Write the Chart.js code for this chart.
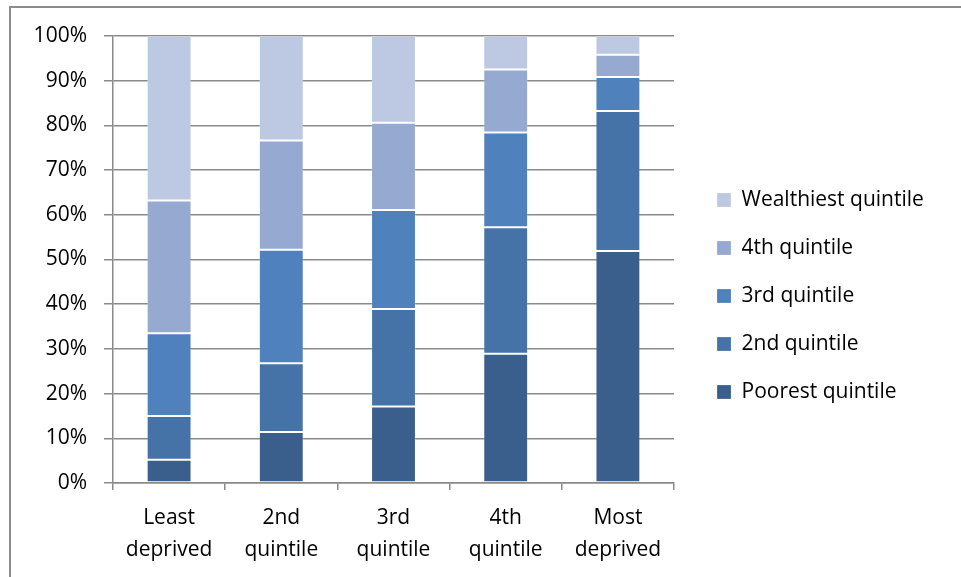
<!DOCTYPE html>
<html>
<head>
<meta charset="utf-8">
<script src="https://cdn.jsdelivr.net/npm/chart.js@4.4.0/dist/chart.umd.min.js"></script>
<style>
    html, body { margin: 0; padding: 0; background: #ffffff; }
    body { width: 961px; height: 577px; position: relative; overflow: hidden; }
    .frame {
        position: absolute; left: 9px; top: 6px; width: 1000px; height: 620px;
        border-left: 2px solid #8c8c8c; border-top: 2px solid #8c8c8c;
    }
    .chart-box { position: absolute; left: 0; top: 0; width: 961px; height: 577px; }
</style>
</head>
<body>
<div class="frame"></div>
<div class="chart-box"><canvas id="wealthChart"></canvas></div>
<script>
// Categories (area deprivation) and tick labels
const categories = [
    ['Least', 'deprived'],
    ['2nd', 'quintile'],
    ['3rd', 'quintile'],
    ['4th', 'quintile'],
    ['Most', 'deprived']
];
const yTicks = [0, 10, 20, 30, 40, 50, 60, 70, 80, 90, 100];

// Share of each wealth quintile, percent
const poorest = [5.2, 11.4, 17.1, 28.9, 51.9];
const second = [9.8, 15.4, 21.8, 28.3, 31.3];
const third = [18.5, 25.4, 22.2, 21.2, 7.6];
const fourth = [29.7, 24.4, 19.5, 14.1, 5.0];
const wealthiest = [36.8, 23.4, 19.4, 7.5, 4.2];

const seriesNames = ['Poorest quintile', '2nd quintile', '3rd quintile', '4th quintile', 'Wealthiest quintile'];
const seriesColors = ['#3b5f8c', '#4573a8', '#4f81bd', '#96aad1', '#bdc9e2'];

const gridColor = '#8a8a8a';
const labelFont = { family: '"Open Sans", sans-serif', size: 21 };

// Put the legend where the original has it
const legendPlace = {
    id: 'legendPlace',
    beforeLayout(chart) {
        const lg = chart.legend;
        if (lg && !lg._fixed) {
            const fit = lg.fit;
            lg.fit = function() {
                fit.call(this);
                this.width = 961 - 674;
            };
            lg._fixed = true;
        }
    },
    afterLayout(chart) {
        const lg = chart.legend;
        lg.left = 690;
        lg.top = 62;
        lg.bottom = 530;
    }
};

const allSeries = [poorest, second, third, fourth, wealthiest];

new Chart(document.getElementById('wealthChart'), {
    type: 'bar',
    data: {
        labels: categories,
        datasets: allSeries.map((values, i) => ({
            label: seriesNames[i],
            data: values,
            backgroundColor: seriesColors[i],
            borderColor: 'rgba(255,255,255,0.2)',
            borderWidth: 1,
            borderSkipped: false,
            barPercentage: 0.4,
            categoryPercentage: 1
        }))
    },
    options: {
        responsive: true,
        maintainAspectRatio: false,
        animation: false,
        layout: { padding: { left: 0, top: 36, right: 0, bottom: 0 } },
        plugins: {
            legend: {
                position: 'right',
                reverse: true,
                labels: {
                    boxWidth: 14,
                    boxHeight: 14,
                    padding: 27,
                    color: '#000000',
                    font: labelFont
                }
            },
            tooltip: { enabled: false }
        },
        scales: {
            x: {
                stacked: true,
                afterFit: function(scale) { scale.height = 94; },
                grid: {
                    offset: true,
                    drawOnChartArea: false,
                    drawTicks: true,
                    tickLength: 7,
                    color: gridColor,
                    lineWidth: 1.5
                },
                border: { color: gridColor, width: 1.5 },
                ticks: {
                    color: '#000000',
                    padding: 12,
                    font: { family: labelFont.family, size: 21, lineHeight: 1.52 }
                }
            },
            y: {
                stacked: true,
                min: 0,
                max: 100,
                afterFit: function(scale) { scale.width = 113; },
                afterBuildTicks: function(scale) {
                    scale.ticks = yTicks.map(v => ({ value: v }));
                },
                grid: {
                    color: gridColor,
                    lineWidth: 1.5,
                    tickLength: 9
                },
                border: { color: gridColor, width: 1.5 },
                ticks: {
                    color: '#000000',
                    padding: 17,
                    font: labelFont,
                    callback: function(value) { return value + '%'; }
                }
            }
        }
    },
    plugins: [legendPlace]
});
</script>
</body>
</html>
